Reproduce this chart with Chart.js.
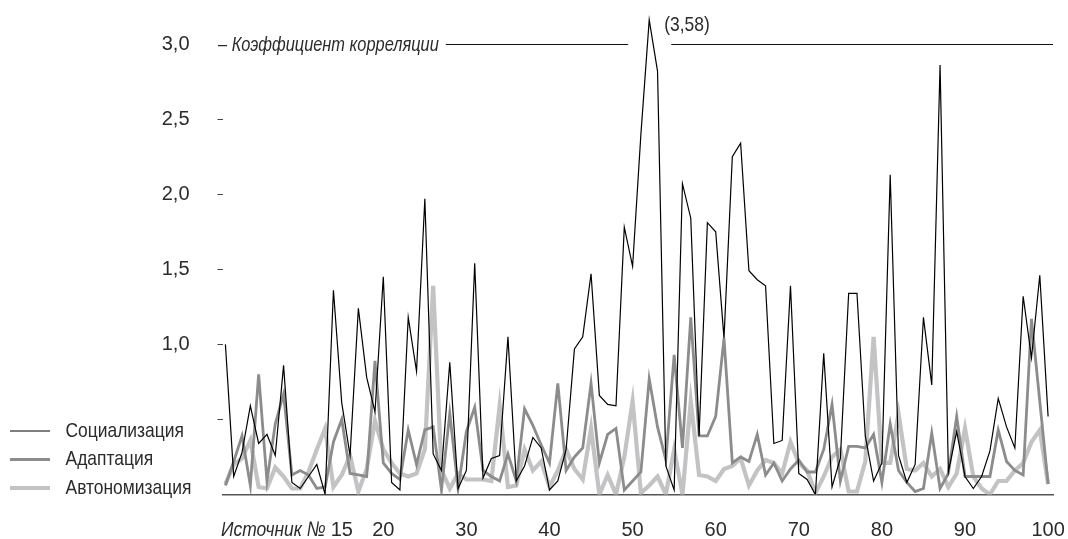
<!DOCTYPE html>
<html>
<head>
<meta charset="utf-8">
<script src="https://cdn.jsdelivr.net/npm/chart.js@4.4.1/dist/chart.umd.min.js"></script>
<style>
    html, body { margin: 0; padding: 0; background: #fff; }
    #wrap { width: 1068px; height: 539px; }
</style>
</head>
<body>
<div id="wrap"><canvas id="corrChart" width="1068" height="539"></canvas></div>
<script>
// Source numbers (x axis)
const sources = [
    1, 2, 3, 4, 5, 6, 7, 8, 9, 10, 11, 12, 13, 14, 15, 16, 17, 18, 19, 20,
    21, 22, 23, 24, 25, 26, 27, 28, 29, 30, 31, 32, 33, 34, 35, 36, 37, 38, 39, 40,
    41, 42, 43, 44, 45, 46, 47, 48, 49, 50, 51, 52, 53, 54, 55, 56, 57, 58, 59, 60,
    61, 62, 63, 64, 65, 66, 67, 68, 69, 70, 71, 72, 73, 74, 75, 76, 77, 78, 79, 80,
    81, 82, 83, 84, 85, 86, 87, 88, 89, 90, 91, 92, 93, 94, 95, 96, 97, 98, 99, 100
];

// Correlation coefficients
const socialization = [
    1.00, 0.12, 0.28, 0.59, 0.34, 0.40, 0.26, 0.86, 0.08, 0.04,
    0.12, 0.20, 0.00, 1.36, 0.61, 0.26, 1.24, 0.78, 0.55, 1.45,
    0.08, 0.03, 1.18, 0.82, 1.97, 0.27, 0.16, 0.88, 0.04, 0.16,
    1.54, 0.11, 0.24, 0.26, 1.05, 0.09, 0.19, 0.38, 0.31, 0.03,
    0.09, 0.30, 0.97, 1.05, 1.47, 0.66, 0.60, 0.59, 1.78, 1.52,
    2.40, 3.16, 2.82, 0.19, 0.03, 2.07, 1.84, 0.39, 1.81, 1.75,
    1.04, 2.25, 2.34, 1.49, 1.43, 1.39, 0.34, 0.36, 1.39, 0.14,
    0.10, 0.00, 0.94, 0.05, 0.24, 1.34, 1.34, 0.39, 0.09, 0.21,
    2.13, 0.26, 0.08, 0.20, 1.18, 0.73, 2.86, 0.15, 0.42, 0.12,
    0.04, 0.12, 0.29, 0.64, 0.45, 0.31, 1.32, 0.91, 1.46, 0.52
];
const adaptation = [
    0.06, 0.22, 0.39, 0.06, 0.80, 0.09, 0.47, 0.67, 0.13, 0.16,
    0.13, 0.04, 0.05, 0.35, 0.50, 0.14, 0.13, 0.12, 0.89, 0.21,
    0.14, 0.10, 0.43, 0.20, 0.43, 0.45, 0.03, 0.54, 0.04, 0.42,
    0.58, 0.16, 0.12, 0.09, 0.27, 0.09, 0.57, 0.46, 0.33, 0.21,
    0.74, 0.16, 0.25, 0.31, 0.74, 0.21, 0.40, 0.44, 0.03, 0.09,
    0.15, 0.77, 0.45, 0.23, 0.93, 0.31, 1.18, 0.39, 0.39, 0.52,
    1.04, 0.21, 0.25, 0.22, 0.40, 0.13, 0.21, 0.09, 0.17, 0.23,
    0.15, 0.15, 0.30, 0.60, 0.09, 0.32, 0.32, 0.31, 0.40, 0.08,
    0.47, 0.16, 0.08, 0.02, 0.04, 0.41, 0.04, 0.14, 0.52, 0.12,
    0.12, 0.12, 0.12, 0.43, 0.22, 0.16, 0.13, 1.17, 0.62, 0.07
];
const autonomization = [
    0.07, 0.20, 0.24, 0.36, 0.05, 0.04, 0.18, 0.12, 0.04, 0.04,
    0.15, 0.30, 0.44, 0.05, 0.13, 0.26, 0.02, 0.17, 0.49, 0.30,
    0.21, 0.14, 0.12, 0.14, 0.30, 1.39, 0.16, 0.04, 0.14, 0.10,
    0.10, 0.10, 0.09, 0.59, 0.05, 0.06, 0.30, 0.16, 0.22, 0.05,
    0.16, 0.30, 0.17, 0.10, 0.44, 0.00, 0.13, 0.00, 0.25, 0.62,
    0.01, 0.06, 0.12, 0.00, 0.30, 0.00, 0.62, 0.13, 0.12, 0.09,
    0.17, 0.19, 0.24, 0.06, 0.16, 0.23, 0.21, 0.14, 0.35, 0.21,
    0.16, 0.01, 0.12, 0.25, 0.30, 0.02, 0.02, 0.22, 1.05, 0.21,
    0.21, 0.54, 0.17, 0.16, 0.21, 0.12, 0.17, 0.05, 0.14, 0.44,
    0.12, 0.04, 0.00, 0.09, 0.09, 0.16, 0.21, 0.35, 0.43, 0.07
];

const seriesNames = ["Социализация", "Адаптация", "Автономизация"];
const xTickValues = [15, 20, 30, 40, 50, 60, 70, 80, 90, 100];
const yTickValues = [0, 0.5, 1, 1.5, 2, 2.5, 3];
const yTickLabels = ["", "", "1,0", "1,5", "2,0", "2,5", "3,0"];
const peakNote = "(3,58)";
const axisCaption = "Источник №";
const lineCaption = "– Коэффициент корреляции";

const FONT = "'Liberation Sans Narrow', 'Arial Narrow', 'Liberation Sans', Arial, sans-serif";
const TEXT = "#2b2b2b";

// draw text squeezed horizontally (no condensed face installed)
function fillNarrow(ctx, text, x, y, align, sx) {
    const w = ctx.measureText(text).width * sx;
    const x0 = align === "right" ? x - w : x;
    ctx.save();
    ctx.translate(x0, y);
    ctx.scale(sx, 1);
    ctx.textAlign = "left";
    ctx.fillText(text, 0, 0);
    ctx.restore();
    return w;
}

// Extra texts, the 3.0 line and the legend
const decorPlugin = {
    id: "decor",
    afterDraw(chart) {
        const ctx = chart.ctx;
        const xs = chart.scales.x;
        const ys = chart.scales.y;
        const y3 = Math.round(ys.getPixelForValue(3)) + 0.5;

        ctx.save();
        ctx.fillStyle = TEXT;
        ctx.textBaseline = "middle";

        // caption on the 3.0 line
        ctx.font = "italic 21px " + FONT;
        const capW = fillNarrow(ctx, lineCaption, 218, y3 + 1, "left", 0.78);
        const capEnd = 218 + capW + 7;

        // 3.0 line with a gap around the clipped peak
        const peakIdx = socialization.indexOf(Math.max(...socialization));
        const px = xs.getPixelForValue(sources[peakIdx]);
        ctx.strokeStyle = "#111";
        ctx.lineWidth = 1;
        ctx.beginPath();
        ctx.moveTo(capEnd, y3);
        ctx.lineTo(px - 21, y3);
        ctx.moveTo(px + 22, y3);
        ctx.lineTo(xs.right, y3);
        ctx.stroke();

        // real value of the peak
        ctx.font = "21px " + FONT;
        fillNarrow(ctx, peakNote, px + 15, ys.getPixelForValue(socialization[peakIdx]) + 5, "left", 0.83);

        // x axis caption
        ctx.font = "italic 21px " + FONT;
        fillNarrow(ctx, axisCaption, xs.getPixelForValue(xTickValues[0]) - 16, 530, "right", 0.83);

        // legend, bottom left
        const legendY = [431, 459.5, 488];
        ctx.font = "21px " + FONT;
        chart.data.datasets.forEach((ds, i) => {
            ctx.strokeStyle = ds.borderColor;
            ctx.lineWidth = ds.borderWidth;
            ctx.beginPath();
            ctx.moveTo(10, legendY[i]);
            ctx.lineTo(50, legendY[i]);
            ctx.stroke();
            fillNarrow(ctx, ds.label, 65.5, legendY[i], "left", 0.83);
        });
        ctx.restore();
    },
};

function initChart() {
    const ctx = document.getElementById("corrChart");
    if (!ctx) return;

    new Chart(ctx.getContext("2d"), {
        type: "line",
        data: {
            labels: sources,
            datasets: [
                {
                    label: seriesNames[0],
                    data: socialization,
                    borderColor: "#000000",
                    borderWidth: 1.2,
                },
                {
                    label: seriesNames[1],
                    data: adaptation,
                    borderColor: "#8c8c8c",
                    borderWidth: 2.8,
                },
                {
                    label: seriesNames[2],
                    data: autonomization,
                    borderColor: "#c3c3c5",
                    borderWidth: 4.2,
                },
            ],
        },
        options: {
            responsive: false,
            animation: false,
            layout: {
                padding: { top: 14, right: 15, bottom: 0, left: 0 },
            },
            elements: {
                point: { radius: 0 },
                line: { tension: 0, fill: false },
            },
            plugins: {
                legend: { display: false },
                tooltip: { enabled: false },
            },
            scales: {
                x: {
                    type: "linear",
                    min: 0.65,
                    max: 100.59,
                    border: { display: true, color: "#555555", width: 1.5 },
                    grid: { display: false, drawTicks: false },
                    ticks: {
                        autoSkip: false,
                        maxRotation: 0,
                        padding: 24,
                        color: TEXT,
                        font: { family: FONT, size: 20 },
                        callback: function (value) {
                            return String(value);
                        },
                    },
                    afterBuildTicks: function (scale) {
                        scale.ticks = xTickValues.map((v) => ({ value: v }));
                    },
                    afterFit: function (scale) {
                        scale.height = 539 - 494.5;
                        scale.paddingLeft = 0;
                        scale.paddingRight = 0;
                    },
                },
                y: {
                    min: 0,
                    max: 3.2,
                    border: { display: false },
                    grid: {
                        drawOnChartArea: false,
                        drawTicks: true,
                        tickLength: 5,
                        tickWidth: 1,
                        tickColor: function (c) {
                            const v = c.tick ? c.tick.value : 0;
                            return v > 0 && v < 3 ? "#444444" : "rgba(0,0,0,0)";
                        },
                    },
                    ticks: {
                        padding: 28,
                        color: TEXT,
                        font: { family: FONT, size: 20 },
                        callback: function (value) {
                            const i = yTickValues.indexOf(value);
                            return i >= 0 ? yTickLabels[i] : "";
                        },
                    },
                    afterBuildTicks: function (scale) {
                        scale.ticks = yTickValues.map((v) => ({ value: v }));
                    },
                    afterFit: function (scale) {
                        scale.width = 222.5;
                        scale.paddingTop = 0;
                        scale.paddingBottom = 0;
                    },
                },
            },
        },
        plugins: [decorPlugin],
    });
}

document.addEventListener("DOMContentLoaded", initChart);
</script>
</body>
</html>
